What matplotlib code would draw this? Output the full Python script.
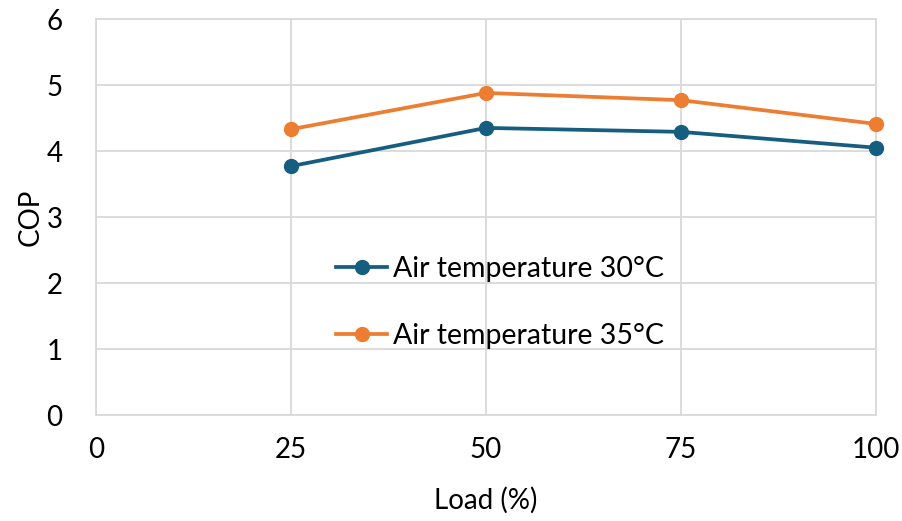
import matplotlib
matplotlib.use("Agg")
import matplotlib.pyplot as plt

load = [25, 50, 75, 100]
cop_30 = [3.77, 4.35, 4.29, 4.05]
cop_35 = [4.33, 4.88, 4.77, 4.41]
labels = ["Air temperature 30°C", "Air temperature 35°C"]
x_ticks = [0, 25, 50, 75, 100]
y_ticks = [0, 1, 2, 3, 4, 5, 6]

plt.rcParams['font.family'] = ['Lato', 'DejaVu Sans']

fig = plt.figure(figsize=(9.02, 5.21), dpi=100)
ax = fig.add_axes([96/902, 1-415/521, (876-96)/902, (415-19)/521])

blue = "#165E80"
orange = "#ED7D31"
grid = "#D9D9D9"

ax.plot(load, cop_30, color=blue, lw=2.7, marker='o', ms=10, label=labels[0], zorder=3, clip_on=False)
ax.plot(load, cop_35, color=orange, lw=2.7, marker='o', ms=10, label=labels[1], zorder=3, clip_on=False)

ax.set_xlim(0, 100)
ax.set_ylim(0, 6)
ax.set_xticks(x_ticks)
ax.set_yticks(y_ticks)
ax.grid(True, color=grid, lw=1.3)
ax.set_axisbelow(True)
for s in ax.spines.values():
    s.set_color(grid)
    s.set_linewidth(1.3)
ax.tick_params(length=0, labelsize=20, colors='black')
ax.tick_params(axis='x', pad=16)
ax.tick_params(axis='y', pad=24)

ax.set_xlabel("Load (%)", fontsize=20, labelpad=17)
ax.set_ylabel("COP", fontsize=20, labelpad=2)

leg = ax.legend(loc='upper left', bbox_to_anchor=(0.293, 0.431), frameon=False,
                fontsize=20.5, handlelength=1.8, handletextpad=0.2, labelspacing=1.45,
                borderaxespad=0)

fig.savefig("out.png", dpi=100)
